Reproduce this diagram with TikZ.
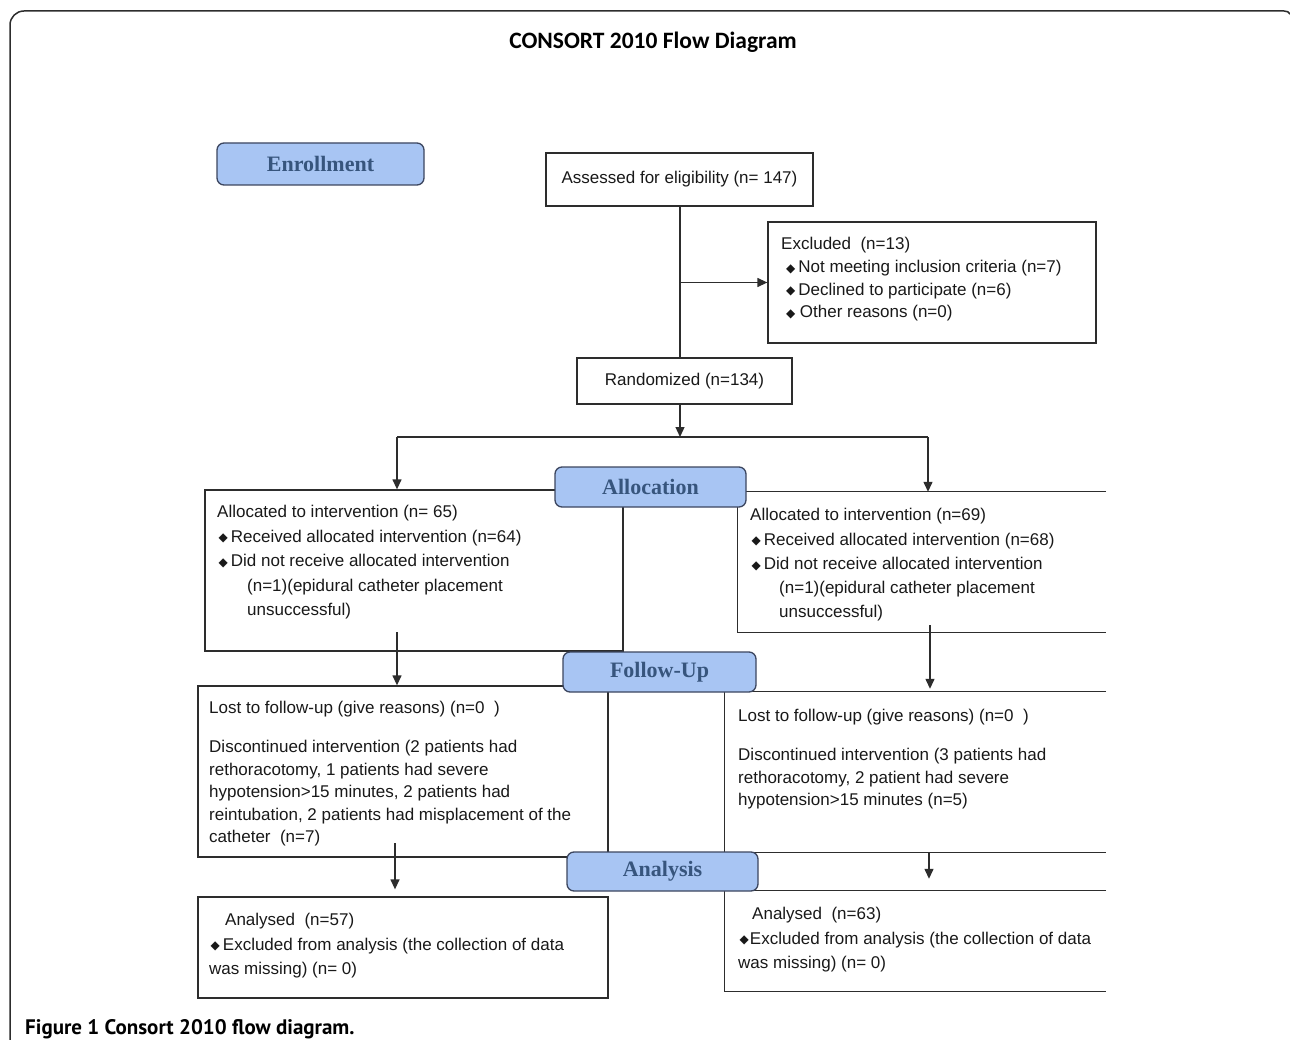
\documentclass[tikz,border=0pt]{standalone}
\usepackage{fontspec}
\setmainfont{Liberation Sans}
\newfontfamily\titlefont{Carlito}
\newfontfamily\capfont{PT Sans}
\newfontfamily\hdrfont{Liberation Serif}
\newfontfamily\dejavu{DejaVu Sans}
\usetikzlibrary{arrows.meta}
\definecolor{lc}{RGB}{45,45,45}
\definecolor{tc}{RGB}{25,25,25}
\definecolor{hfill}{RGB}{168,197,243}
\definecolor{hdraw}{RGB}{60,70,95}
\definecolor{htext}{RGB}{55,85,125}
\newcommand\bul{{\dejavu\fontsize{12}{12}\selectfont\raisebox{0.3pt}{◆}}\hspace{3pt}}
\newcommand\fs{\rule{0pt}{14pt}}
\begin{document}
\begin{tikzpicture}[x=1pt,y=-1pt,
 box/.style={draw=lc,line width=1.3pt,inner sep=0pt},
 obox/.style={inner sep=0pt},
 hdr/.style={draw=hdraw,fill=hfill,rounded corners=7pt,line width=1.3pt,inner sep=0pt,text=htext,font=\hdrfont\bfseries\fontsize{22}{24}\selectfont},
 ln/.style={draw=lc,line width=1.3pt},
 arr/.style={ln,-{Triangle[length=10pt,width=9pt]}},
 txt/.style={anchor=north west,inner sep=0pt,align=left,text=tc},
 body/.style={font=\fontsize{17}{#1}\selectfont}]
\useasboundingbox (0,0) rectangle (1290,1040);
\fill[white] (0,0) rectangle (1290,1040);
% outer frame
\draw[lc,line width=1.5pt,rounded corners=14pt] (10,1045) -- (10,11) -- (1284,11);
\draw[lc,line width=1.5pt] (1284,11) .. controls (1287,11) and (1289,12) .. (1290,14);
% title
\node[font=\titlefont\bfseries\fontsize{23.5}{26}\selectfont,text=black] (title) at (653,42) {CONSORT 2010 Flow Diagram};
% enrollment
\node[hdr,minimum width=207pt,minimum height=42pt] (hEnr) at (320.5,164) {Enrollment};
\node[box,minimum width=267pt,minimum height=53pt,body=20,text=tc] (assess) at (679.5,179.5) {Assessed for eligibility (n= 147)};
\node[box,minimum width=328pt,minimum height=121pt] (excl) at (932,282.5) {};
\node[txt,body=22.7] (exclT) at (781,235.5) {\fs Excluded\ \ (n=13)\\
\hspace*{5pt}\bul Not meeting inclusion criteria (n=7)\\
\hspace*{5pt}\bul Declined to participate (n=6)\\
\hspace*{5pt}\bul\hspace{1.5pt}Other reasons (n=0)};
\node[box,minimum width=215pt,minimum height=46pt,body=20,text=tc] (random) at (684.5,381) {Randomized (n=134)};
\coordinate (c680) at (680,0);
\draw[ln] (assess.south -| c680) -- (random.north -| c680);
\draw[arr] (excl.west -| c680) -- (excl.west);
\coordinate (split) at (680,437);
\coordinate (bL) at (397,437);
\coordinate (bR) at (928,437);
\coordinate (thk1) at (615,437);
\coordinate (thk2) at (710,437);
\draw[ln] (bL) -- (bR);
\draw[lc,line width=2.3pt] (thk1) -- (thk2);
\draw[arr] (random.south -| c680) -- (split);
% allocation
\node[box,minimum width=418pt,minimum height=161pt] (alloc1) at (414,570.5) {};
\node[obox,minimum width=368pt,minimum height=140pt] (alloc2) at (922,562) {};
\draw[ln] (alloc2.north east) -- (alloc2.north west) -- (alloc2.south west) -- (alloc2.south east);
\draw[arr] (bL) -- (bL |- alloc1.north);
\draw[arr] (bR) -- (bR |- alloc2.north);
\node[hdr,minimum width=191pt,minimum height=40pt] (hAll) at (650.5,487) {Allocation};
\node[txt,body=24.5] (alloc1T) at (217,503.5) {\fs Allocated to intervention (n= 65)\\
\hspace*{1.5pt}\bul Received allocated intervention (n=64)\\
\hspace*{1.5pt}\bul Did not receive allocated intervention\\
\hspace*{30pt}(n=1)(epidural catheter placement\\
\hspace*{30pt}unsuccessful)};
\node[txt,body=24.3] (alloc2T) at (750,506.5) {\fs Allocated to intervention (n=69)\\
\hspace*{1.5pt}\bul Received allocated intervention (n=68)\\
\hspace*{1.5pt}\bul Did not receive allocated intervention\\
\hspace*{29pt}(n=1)(epidural catheter placement\\
\hspace*{29pt}unsuccessful)};
% follow-up
\node[box,minimum width=410pt,minimum height=171pt] (fu1) at (403,771.5) {};
\node[obox,minimum width=381pt,minimum height=160pt] (fu2) at (915.5,772) {};
\draw[ln] (fu2.north east) -- (fu2.north west) -- (fu2.south west) -- (fu2.south east);
\coordinate (a1) at (397,632);
\coordinate (a2) at (930,625);
\draw[arr] (a1) -- (a1 |- fu1.north);
\draw[arr,shorten >=3pt] (a2) -- (a2 |- fu2.north);
\node[hdr,minimum width=193pt,minimum height=40pt] (hFU) at (659.5,672) {Follow-Up};
\node[txt,body=22.5] (fu1T) at (209,699.5) {\fs Lost to follow-up (give reasons) (n=0\ \ )\\[16.5pt]
Discontinued intervention (2 patients had\\
rethoracotomy, 1 patients had severe\\
hypotension>15 minutes, 2 patients had\\
reintubation, 2 patients had misplacement of the\\
catheter\ \ (n=7)};
\node[txt,body=22.5] (fu2T) at (738,707.5) {\fs Lost to follow-up (give reasons) (n=0\ \ )\\[16.5pt]
Discontinued intervention (3 patients had\\
rethoracotomy, 2 patient had severe\\
hypotension>15 minutes (n=5)};
% analysis
\node[box,minimum width=410pt,minimum height=101pt] (an1) at (403,947.5) {};
\node[obox,minimum width=381pt,minimum height=100pt] (an2) at (915.5,941) {};
\draw[ln] (an2.north east) -- (an2.north west) -- (an2.south west) -- (an2.south east);
\coordinate (f1) at (395,843);
\coordinate (f2) at (929,852);
\draw[arr,shorten >=7pt] (f1) -- (f1 |- an1.north);
\draw[arr,shorten >=12pt] (f2) -- (f2 |- an2.north);
\node[hdr,minimum width=191pt,minimum height=39pt] (hAn) at (662.5,871.5) {Analysis};
\node[txt,body=24.5] (an1T) at (209,911.5) {\fs\hspace*{16pt}Analysed\ \ (n=57)\\
\hspace*{1.5pt}\bul Excluded from analysis (the collection of data\\
was missing) (n= 0)};
\node[txt,body=24.5] (an2T) at (738,905.5) {\fs\hspace*{14pt}Analysed\ \ (n=63)\\
\hspace*{1.5pt}{\dejavu\fontsize{12}{12}\selectfont\raisebox{0.3pt}{◆}}\hspace{1pt}Excluded from analysis (the collection of data\\
was missing) (n= 0)};
% caption
\node[anchor=base west,inner sep=0pt,font=\capfont\bfseries\fontsize{21}{24}\selectfont,text=black] (cap) at (25,1034) {Figure 1 Consort 2010 flow diagram.};
\end{tikzpicture}
\end{document}
